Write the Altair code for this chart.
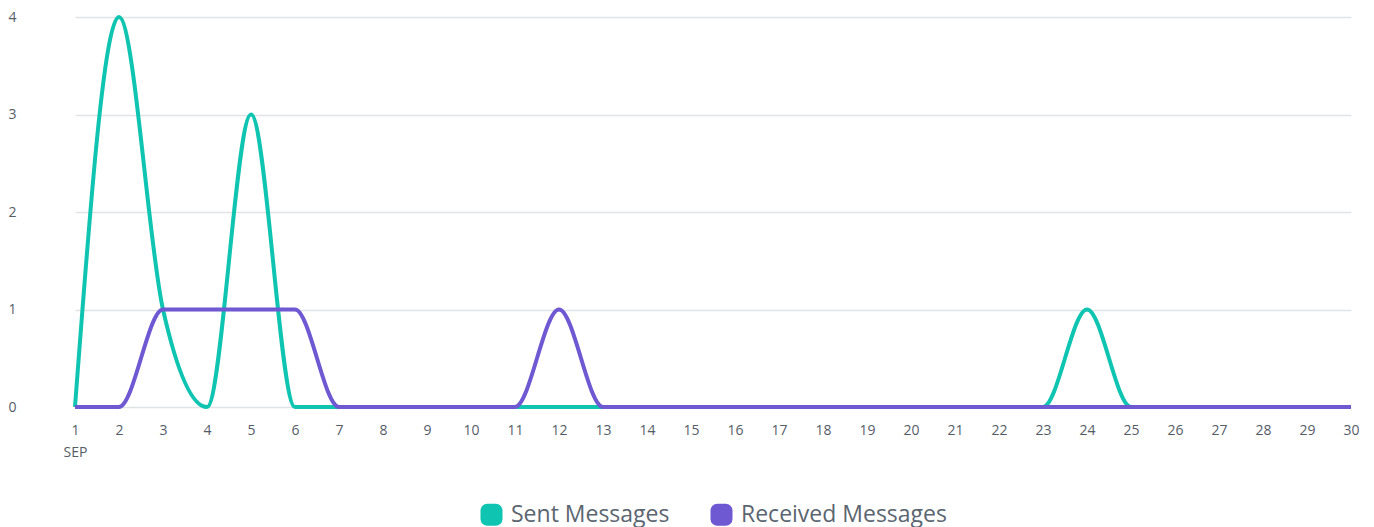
import altair as alt
import pandas as pd

days = list(range(1, 31))
sent = [0, 4, 1, 0, 3, 0, 0, 0, 0, 0, 0, 0, 0, 0, 0, 0, 0, 0, 0, 0, 0, 0, 0, 1, 0, 0, 0, 0, 0, 0]
received = [0, 0, 1, 1, 1, 1, 0, 0, 0, 0, 0, 1, 0, 0, 0, 0, 0, 0, 0, 0, 0, 0, 0, 0, 0, 0, 0, 0, 0, 0]
series_names = ["Sent Messages", "Received Messages"]
colors = ["#0fc5b1", "#6f59d2"]

rows = []
for d, s in zip(days, sent):
    rows.append({"day": d, "value": s, "series": series_names[0]})
for d, r in zip(days, received):
    rows.append({"day": d, "value": r, "series": series_names[1]})
df = pd.DataFrame(rows)

# small square; a thick stroke turns it into a filled block with rounded corners
rounded_square = ("M -0.85 -1 L 0.85 -1 Q 1 -1 1 -0.85 L 1 0.85 Q 1 1 0.85 1 "
                  "L -0.85 1 Q -1 1 -1 0.85 L -1 -0.85 Q -1 -1 -0.85 -1 Z")

FONT = "Open Sans"

chart = alt.Chart(df).mark_line(interpolate="monotone").encode(
    x=alt.X("day:Q", scale=alt.Scale(domain=[1, 30], nice=False, zero=False),
            axis=alt.Axis(values=days, title=None, grid=False, domain=False, ticks=False,
                          labelFlush=False, labelOverlap=False,
                          labelPadding=16, labelFontSize=14, labelColor="#555d66",
                          labelFont=FONT, labelLineHeight=22,
                          labelExpr="datum.value == 1 ? ['1', 'SEP'] : datum.label")),
    y=alt.Y("value:Q", scale=alt.Scale(domain=[0, 4], nice=False),
            axis=alt.Axis(values=[0, 1, 2, 3, 4], title=None, domain=False, ticks=False,
                          labelAlign="left", labelPadding=67, labelFontSize=14,
                          labelColor="#555d66", labelFont=FONT,
                          gridColor="#e1e4e7", gridWidth=1.5)),
    strokeWidth=alt.value(4),
    color=alt.Color("series:N", sort=series_names,
                    scale=alt.Scale(domain=series_names, range=colors),
                    legend=alt.Legend(title=None, orient="none", direction="horizontal",
                                      legendX=405, legendY=486,
                                      symbolType=rounded_square, symbolSize=100,
                                      symbolStrokeWidth=12, symbolOpacity=1,
                                      labelFontSize=23, labelColor="#5b6670", labelFont=FONT,
                                      labelLimit=400,
                                      labelOffset=8, columnPadding=22)),
).properties(
    width=1276, height=390, padding={"left": 0, "top": 1, "right": 0, "bottom": 0}
).configure_view(stroke=None)

chart.save("out.html", embed_options={"renderer": "svg", "actions": False})
